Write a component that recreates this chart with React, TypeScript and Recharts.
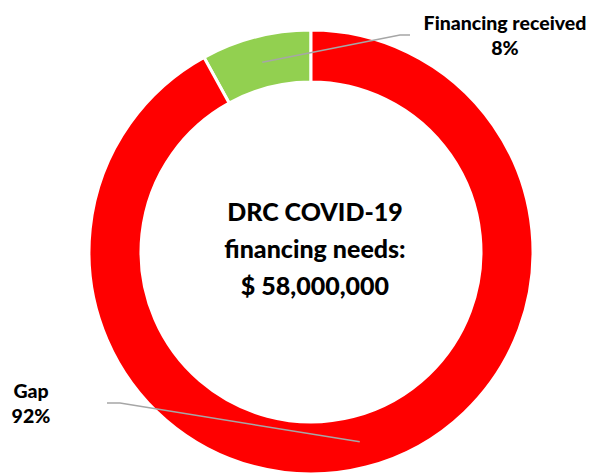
import { PieChart, Pie, Cell } from "recharts";

// chart data
const categories = ["Financing received", "Gap"];
const shares = [8, 92];
const colors = ["#92D050", "#FF0000"];

const totalNeeds = "$ 58,000,000";

const data = categories.map((name, i) => ({ name, value: shares[i] }));

const FONT = "Lato, 'Open Sans', sans-serif";

// label placement (elbow + text anchor) per slice
const labelLayout = [
  { elbowX: 400, elbowY: 35, endX: 410, textX: 505, textY: 30, lineGap: 25 },
  { elbowX: 120, elbowY: 403, endX: 107, textX: 31, textY: 398, lineGap: 25 },
];

const RADIAN = Math.PI / 180;

const renderLabel = (props: any) => {
  const { cx, cy, midAngle, innerRadius, outerRadius, index, percent } = props;
  const r = (innerRadius + outerRadius) / 2;
  const sx = cx + r * Math.cos(-midAngle * RADIAN);
  const sy = cy + r * Math.sin(-midAngle * RADIAN);
  const l = labelLayout[index];
  return (
    <g>
      <polyline
        points={`${sx},${sy} ${l.elbowX},${l.elbowY} ${l.endX},${l.elbowY}`}
        fill="none"
        stroke="#A6A6A6"
        strokeWidth={1.5}
      />
      <text
        x={l.textX}
        y={l.textY}
        textAnchor="middle"
        fontFamily={FONT}
        fontWeight={900}
        fontSize={19.5}
        fill="#000"
      >
        {categories[index]}
      </text>
      <text
        x={l.textX}
        y={l.textY + l.lineGap}
        textAnchor="middle"
        fontFamily={FONT}
        fontWeight={900}
        fontSize={19.5}
        fill="#000"
      >
        {Math.round(percent * 100)}%
      </text>
    </g>
  );
};

const App = () => {
  return (
    <div
      style={{
        position: "absolute",
        left: 0,
        top: 0,
        width: 590,
        height: 473,
        background: "#fff",
      }}
    >
      <PieChart width={590} height={473} margin={{ top: 0, right: 0, bottom: 0, left: 0 }}>
        <Pie
          data={data}
          dataKey="value"
          cx={311}
          cy={252}
          innerRadius={170}
          outerRadius={222}
          startAngle={90}
          endAngle={450}
          stroke="#fff"
          strokeWidth={3}
          label={renderLabel}
          labelLine={false}
          isAnimationActive={false}
        >
          {data.map((d, i) => (
            <Cell key={d.name} fill={colors[i]} />
          ))}
        </Pie>
      </PieChart>

      {/* centre text */}
      <div
        style={{
          position: "absolute",
          left: 165,
          top: 193,
          width: 300,
          textAlign: "center",
          fontFamily: FONT,
          fontWeight: 900,
          fontSize: 25,
          lineHeight: "37px",
          color: "#000",
        }}
      >
        DRC COVID-19
        <br />
        financing needs:
        <br />
        {totalNeeds}
      </div>
    </div>
  );
};

export default App;
